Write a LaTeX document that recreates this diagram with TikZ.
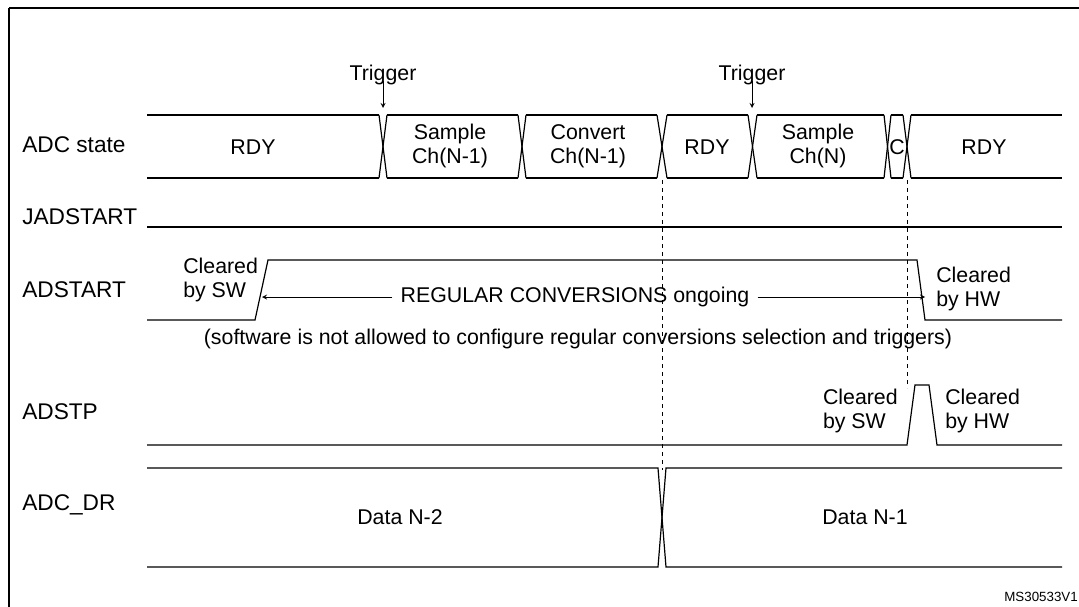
\documentclass[tikz,border=0pt]{standalone}
\usepackage{fontspec}
\setmainfont{Liberation Sans}
\usetikzlibrary{positioning}

\begin{document}
\begin{tikzpicture}[x=0.75pt, y=-0.75pt,
  wave/.style={line width=0.9pt},
  lbl/.style={font=\fontsize{16}{18}\selectfont, inner sep=0pt},
  sig/.style={font=\fontsize{17}{19}\selectfont, inner sep=0pt, anchor=west},
  twoline/.style={lbl, align=left},
  guide/.style={dashed, line width=0.7pt}]

%─────────────
% Canvas and frame
%─────────────
\useasboundingbox (0,0) rectangle (1079,607);
\fill[white] (0,0) rectangle (1079,607);
\draw[line width=1.4pt] (9,8) -- (1085,8);
\draw[line width=1.4pt] (9,8) -- (9,615);

%─────────────
% Signal names
%─────────────
\node[sig] (nstate) at (22,145) {ADC state};
\node[sig] (njad)   at (22,217) {JADSTART};
\node[sig] (nad)    at (22,290) {ADSTART};
\node[sig] (nstp)   at (22,412) {ADSTP};
\node[sig] (ndr)    at (22,505) {ADC\_DR};

%─────────────────────────────────────────────────────────────
% ADC state bus: \busCross{x}{half width}
%─────────────────────────────────────────────────────────────
\def\bt{115}  % bus top
\def\bb{178}  % bus bottom
\newcommand{\busCross}[2]{%
  \draw[wave] ({#1-#2},\bt) -- ({#1+#2},\bb);
  \draw[wave] ({#1-#2},\bb) -- ({#1+#2},\bt);
}
\draw[wave] (147,\bt) -- (379,\bt) (387,\bt) -- (518,\bt) (526,\bt) -- (657,\bt)
  (667,\bt) -- (748,\bt) (757,\bt) -- (884,\bt) (891,\bt) -- (903,\bt) (911,\bt) -- (1062,\bt);
\draw[wave] (147,\bb) -- (379,\bb) (387,\bb) -- (518,\bb) (526,\bb) -- (657,\bb)
  (667,\bb) -- (748,\bb) (757,\bb) -- (884,\bb) (891,\bb) -- (903,\bb) (911,\bb) -- (1062,\bb);
\busCross{383}{4}
\busCross{522}{4}
\busCross{662}{5}
\busCross{752.5}{4.5}
\busCross{887.5}{3.5}
\busCross{907}{4}

\node[lbl] (rdyA) at (253,147) {RDY};
\node[lbl, align=center] (smpA) at (450,146) {Sample\\Ch(N-1)};
\node[lbl, align=center] (cnvA) at (588,146) {Convert\\Ch(N-1)};
\node[lbl] (rdyB) at (707,147) {RDY};
\node[lbl, align=center] (smpB) at (818,146) {Sample\\Ch(N)};
\node[lbl] (convC) at (897,147) {C};
\node[lbl] (rdyC) at (984,147) {RDY};

% Triggers
\node[lbl] (trgA) at (383,75) {Trigger};
\node[lbl] (trgB) at (752,75) {Trigger};
\coordinate (trgAend) at (383,108);
\coordinate (trgBend) at (752,108);
\draw[-stealth, line width=0.7pt] (trgA.south) ++(0,-4) coordinate (trgAst) (trgAst) -- (trgAend);
\draw[-stealth, line width=0.7pt] (trgB.south) ++(0,-4) coordinate (trgBst) (trgBst) -- (trgBend);

%─────────────
% JADSTART
%─────────────
\draw[wave] (147,227) -- (1062,227);

%─────────────
% ADSTART
%─────────────
\draw[wave] (147,320) -- (255,320) -- (268,260) -- (917,260) -- (925,320) -- (1062,320);
\node[twoline, anchor=west] (clrSW) at (183,280) {Cleared\\by SW};
\node[twoline, anchor=west] (clrHW) at (936,289) {Cleared\\by HW};
\node[lbl] (ongo) at (575,297) {REGULAR CONVERSIONS ongoing};
\coordinate (ongoL) at (262,297);
\coordinate (ongoR) at (925,297);
\draw[-stealth, line width=0.7pt] (ongo.west) ++(-8,0) coordinate (oL) (oL) -- (ongoL);
\draw[-stealth, line width=0.7pt] (ongo.east) ++(8,0) coordinate (oR) (oR) -- (ongoR);
\node[lbl] (note) at (578,339) {(software is not allowed to configure regular conversions selection and triggers)};

%─────────────
% ADSTP
%─────────────
\draw[wave] (147,445) -- (907,445) -- (915,385) -- (929,385) -- (937,445) -- (1062,445);
\node[twoline, anchor=east] (stpSW) at (898,411) {Cleared\\by SW};
\node[twoline, anchor=west] (stpHW) at (945,411) {Cleared\\by HW};

%─────────────
% ADC_DR
%─────────────
\draw[wave] (147,468) -- (658,468) -- (666,567) -- (1062,567);
\draw[wave] (147,567) -- (658,567) -- (666,468) -- (1062,468);
\node[lbl] (dN2) at (400,517) {Data N-2};
\node[lbl] (dN1) at (865,517) {Data N-1};

%─────────────
% Guides
%─────────────
\draw[guide] (662,180) -- (662,470);
\draw[guide] (907,180) -- (907,388);

\node[font=\fontsize{10}{11}\selectfont, anchor=east, inner sep=0pt] (ref) at (1078,597) {MS30533V1};

\end{tikzpicture}
\end{document}
